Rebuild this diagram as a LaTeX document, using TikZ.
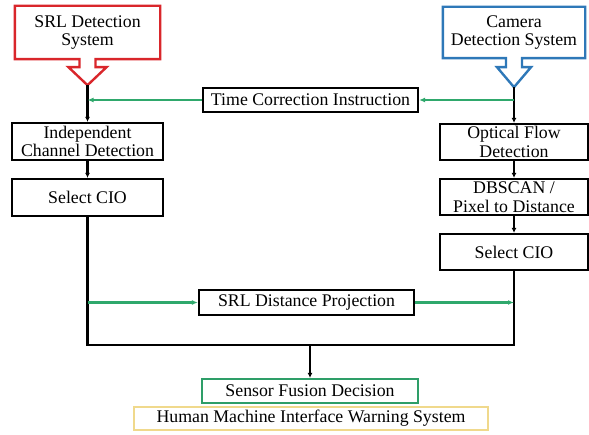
\documentclass[tikz,border=0pt]{standalone}
\usepackage{fontspec}
\setmainfont{Liberation Serif}
\usetikzlibrary{arrows.meta,calc}
\definecolor{srlred}{HTML}{D9262B}
\definecolor{camblue}{HTML}{2E78B8}
\definecolor{arrgreen}{HTML}{2FA86C}
\definecolor{sfgreen}{HTML}{2E9E68}
\definecolor{hmiyellow}{HTML}{F0D98C}
\begin{document}
\begin{tikzpicture}[x=1pt,y=-1pt,
  font=\fontsize{17.8}{18.5}\selectfont,
  box/.style={draw=black,line width=2.2pt,inner sep=0pt,align=center,fill=white},
  blk/.style={draw=black,line width=2.2pt,-{Latex[length=5pt,width=5pt]}},
  grn/.style={draw=arrgreen,line width=2.2pt,-{Latex[length=6pt,width=5pt]}},
  plain/.style={draw=black,line width=2.2pt}]
\useasboundingbox (0,0) rectangle (589,435);
% top source nodes
\node[inner sep=0pt,align=center,minimum width=145pt,minimum height=53pt] (srl) at (87.5,32.5) {SRL Detection\\System};
\node[inner sep=0pt,align=center,minimum width=142pt,minimum height=51pt] (cam) at (514,32.5) {Camera\\Detection System};
\coordinate (srltip) at ($(srl.south)+(0,26)$);
\coordinate (camtip) at ($(cam.south)+(0,29)$);
\draw[srlred,line width=2.4pt,line join=miter]
  (srl.north west) -- (srl.north east) -- (srl.south east)
  -- ($(srl.south)+(8,0)$) -- ($(srl.south)+(8,8)$) -- ($(srl.south)+(19,8)$)
  -- (srltip) -- ($(srl.south)+(-19,8)$) -- ($(srl.south)+(-8,8)$)
  -- ($(srl.south)+(-8,0)$) -- (srl.south west) -- cycle;
\draw[camblue,line width=2.4pt,line join=miter]
  (cam.north west) -- (cam.north east) -- (cam.south east)
  -- ($(cam.south)+(8,0)$) -- ($(cam.south)+(8,9)$) -- ($(cam.south)+(17,9)$)
  -- (camtip) -- ($(cam.south)+(-17,9)$) -- ($(cam.south)+(-8,9)$)
  -- ($(cam.south)+(-8,0)$) -- (cam.south west) -- cycle;
% process boxes
\node[box,minimum width=215pt,minimum height=24pt] (time) at (310.5,100) {Time Correction Instruction};
\node[box,minimum width=151pt,minimum height=37pt] (ind) at (87.5,141.5) {Independent\\Channel Detection};
\node[box,minimum width=151pt,minimum height=37pt] (sel1) at (87.5,197.5) {Select CIO};
\node[box,minimum width=148pt,minimum height=36pt] (of) at (514,142) {Optical Flow\\Detection};
\node[box,minimum width=148pt,minimum height=36pt] (db) at (514,197) {DBSCAN /\\Pixel to Distance};
\node[box,minimum width=148pt,minimum height=36pt] (sel2) at (514,252) {Select CIO};
\node[box,minimum width=215pt,minimum height=25pt] (proj) at (306.5,302.5) {SRL Distance Projection};
\node[box,draw=sfgreen,minimum width=216pt,minimum height=24pt] (sf) at (310,391) {Sensor Fusion Decision};
\node[box,draw=hmiyellow,line width=2pt,minimum width=354pt,minimum height=23pt] (hmi) at (311,418.5) {Human Machine Interface Warning System};
\coordinate (j) at (310,345);
% black connectors
\draw[blk] (srltip) -- (ind.north);
\draw[blk] (ind.south) -- (sel1.north);
\draw[blk] (camtip) -- (of.north);
\draw[blk] (of.south) -- (db.north);
\draw[blk] (db.south) -- (sel2.north);
\draw[plain] (sel1.south) |- (j) -| (sel2.south);
\draw[blk] (j) -- (sf.north);
% green connectors
\draw[grn] (time.west) -- (time.west -| srltip);
\draw[grn] (time.east -| camtip) -- (time.east);
\draw[grn] (proj.west -| sel1.south) -- (proj.west);
\draw[grn] (proj.east) -- (proj.east -| sel2.south);
\end{tikzpicture}
\end{document}
